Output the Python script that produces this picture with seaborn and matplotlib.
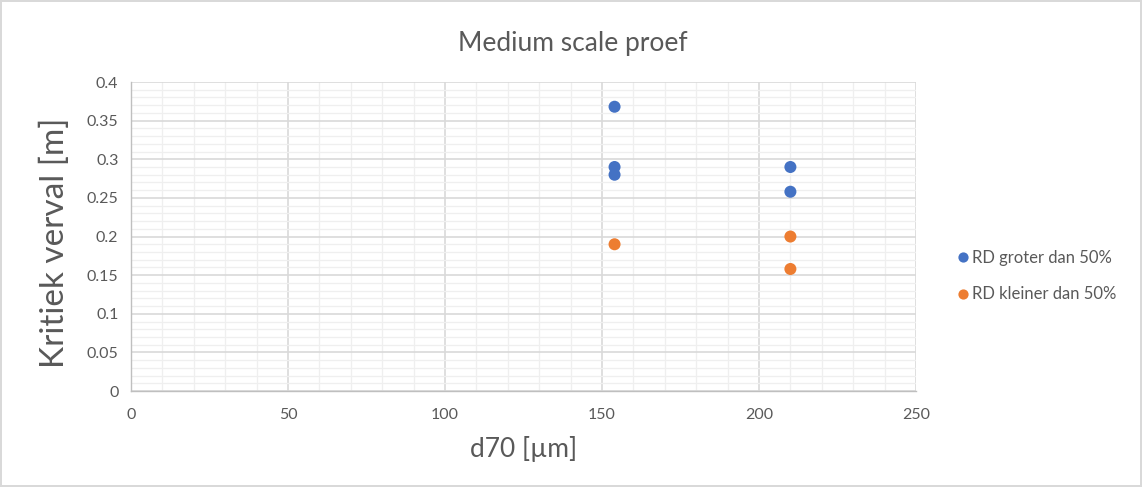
import matplotlib
matplotlib.use("Agg")
import matplotlib.pyplot as plt
import seaborn as sns
import pandas as pd
from matplotlib.ticker import MultipleLocator

# d70 grain size [µm] and critical head [m] per group
d70_groot = [154, 154, 154, 210, 210]
verval_groot = [0.368, 0.29, 0.28, 0.29, 0.258]
d70_klein = [154, 210, 210]
verval_klein = [0.19, 0.2, 0.158]
labels = ["RD groter dan 50%", "RD kleiner dan 50%"]

df = pd.DataFrame({
    "d70": d70_groot + d70_klein,
    "verval": verval_groot + verval_klein,
    "groep": [labels[0]] * len(d70_groot) + [labels[1]] * len(d70_klein),
})

sns.set_style("white")
plt.rcParams["font.family"] = ["Lato", "DejaVu Sans"]
txt = "#595959"

fig = plt.figure(figsize=(11.42, 4.87), dpi=100)
fig.patch.set_edgecolor("#d9d9d9")
fig.patch.set_linewidth(1.5)
ax = fig.add_axes([0.1147, 0.197, 0.6874, 0.6346])

ax.set_xlim(0, 250)
ax.set_ylim(0, 0.4)
ax.xaxis.set_major_locator(MultipleLocator(50))
ax.xaxis.set_minor_locator(MultipleLocator(10))
ax.yaxis.set_major_locator(MultipleLocator(0.05))
ax.yaxis.set_minor_locator(MultipleLocator(0.01))
ax.yaxis.set_major_formatter(plt.FuncFormatter(lambda v, p: f"{v:.2f}".rstrip("0").rstrip(".") if v else "0"))
ax.grid(which="major", color="#d9d9d9", linewidth=1.2)
ax.grid(which="minor", color="#efefef", linewidth=0.9)
ax.set_axisbelow(True)

sns.scatterplot(data=df, x="d70", y="verval", hue="groep",
                palette=["#4472c4", "#ed7d31"], s=75, edgecolor="none",
                ax=ax, zorder=3)

for side in ["top", "right"]:
    ax.spines[side].set_visible(False)
for side in ["left", "bottom"]:
    ax.spines[side].set_color("#bfbfbf")
    ax.spines[side].set_linewidth(1.0)

ax.tick_params(axis="both", which="both", length=0, labelsize=11.5, colors=txt)
ax.tick_params(axis="x", pad=12)
ax.tick_params(axis="y", pad=9)
ax.set_xlabel("d70 [µm]", fontsize=19, color=txt)
ax.xaxis.set_label_coords(0.5, -0.147)
ax.set_ylabel("Kritiek verval [m]", fontsize=24, color=txt)
ax.yaxis.set_label_coords(-0.078, 0.479)
fig.text(0.502, 1 - 43 / 487, "Medium scale proef", fontsize=19, color=txt,
         ha="center", va="center")

leg = ax.legend(loc="center left", bbox_to_anchor=(955 / 1142, 1 - 276 / 487),
                bbox_transform=fig.transFigure, frameon=False,
                borderpad=0, borderaxespad=0,
                fontsize=12, handletextpad=0.0, labelspacing=1.25,
                markerscale=0.85, handlelength=1.0)
for t in leg.get_texts():
    t.set_color(txt)

fig.savefig("out.png", dpi=100)
